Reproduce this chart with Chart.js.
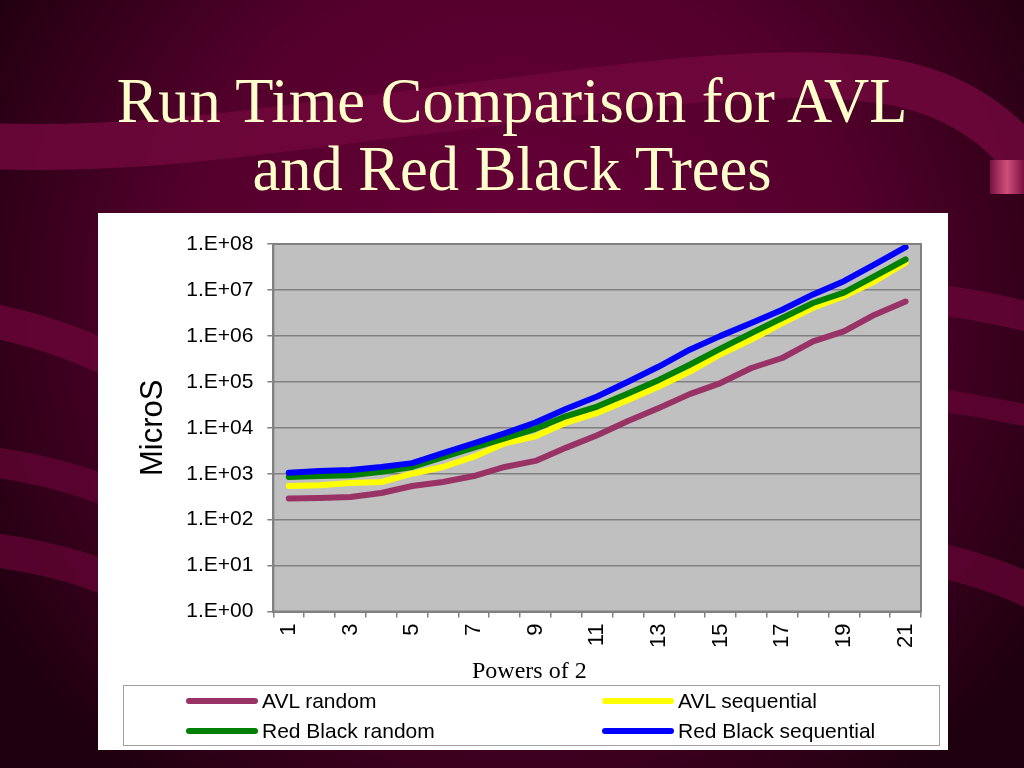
<!DOCTYPE html>
<html lang="en">
<head>
  <meta charset="UTF-8" />
  <title>Run Time Comparison for AVL and Red Black Trees</title>
  <script src="https://cdn.jsdelivr.net/npm/chart.js"></script>
  <style>
    html, body { margin: 0; padding: 0; }
    body { width: 1024px; height: 768px; position: relative; overflow: hidden; background: #3a001d; }
    #bg { position: absolute; left: 0; top: 0; }
    .title { position: absolute; left: 0; width: 1024px; text-align: center; color: #ffffcc;
             font-family: "Liberation Serif", "Times New Roman", serif; font-size: 62.5px; line-height: 68px; white-space: nowrap; }
    #box { position: absolute; left: 98px; top: 213px; width: 850px; height: 537px; background: #fff; }
    #chart { position: absolute; left: 0; top: 0; }
    #xtitle { position: absolute; left: 374px; top: 445px; font-family: "Liberation Serif", serif; font-size: 24px; line-height: 24px; color: #000; }
    #legend { position: absolute; left: 25px; top: 472px; width: 815px; height: 59px; border: 1px solid #a0a0a0;
              font-family: "Liberation Sans", Arial, sans-serif; font-size: 21px; color: #000; }
    .item { position: absolute; height: 30px; line-height: 30px; white-space: nowrap; }
    .item span.swatch { display: inline-block; width: 72px; height: 6px; border-radius: 3px; vertical-align: middle; margin-right: 4px; position: relative; top: -1px; }
  </style>
</head>
<body>
  <svg id="bg" width="1024" height="768">
    <defs>
      <radialGradient id="glow" cx="520" cy="300" r="620" gradientUnits="userSpaceOnUse">
        <stop offset="0" stop-color="#6a003b" />
        <stop offset="0.55" stop-color="#54002c" />
        <stop offset="1" stop-color="#1e000e" />
      </radialGradient>
      <linearGradient id="tab" x1="0" x2="1">
        <stop offset="0" stop-color="#7a1040" />
        <stop offset="0.5" stop-color="#d0507a" />
        <stop offset="1" stop-color="#7a1040" />
      </linearGradient>
    </defs>
    <rect width="1024" height="768" fill="url(#glow)" />
    <path d="M-20,146 C150,152 260,130 420,112 C600,90 760,64 880,80 C960,92 1010,132 1040,182" fill="none" stroke="#70073c" stroke-width="46" stroke-opacity="0.85" />
    <path d="M-20,318 C40,330 80,345 110,360" fill="none" stroke="#6a0538" stroke-width="34" stroke-opacity="0.8" />
    <path d="M-20,460 C40,468 80,480 110,492" fill="none" stroke="#600432" stroke-width="30" stroke-opacity="0.8" />
    <path d="M-20,548 C40,556 80,566 110,580" fill="none" stroke="#600432" stroke-width="34" stroke-opacity="0.8" />
    <path d="M940,300 C980,305 1010,312 1040,320" fill="none" stroke="#660536" stroke-width="30" stroke-opacity="0.8" />
    <path d="M940,400 C980,406 1010,412 1040,418" fill="none" stroke="#600432" stroke-width="22" stroke-opacity="0.8" />
    <path d="M940,560 C980,570 1010,580 1040,596" fill="none" stroke="#600432" stroke-width="34" stroke-opacity="0.8" />
    <rect x="990" y="160" width="34" height="34" fill="url(#tab)" />
  </svg>

  <div class="title" style="top:67px">Run Time Comparison for AVL</div>
  <div class="title" style="top:135px">and Red Black Trees</div>

  <div id="box">
    <canvas id="chart" width="850" height="537"></canvas>
    <div id="xtitle">Powers of 2</div>
    <div id="legend"></div>
  </div>

  <script>
    // x categories: power of 2 (input size)
    const powers = ["1","2","3","4","5","6","7","8","9","10","11","12","13","14","15","16","17","18","19","20","21"];

    // run times in microseconds
    const avlRandom = [290, 295, 310, 380, 540, 660, 890, 1400, 1900, 3700, 6900, 14000, 27000, 54000, 94000, 200000, 330000, 760000, 1250000, 2900000, 5600000];
    const avlSequential = [540, 560, 630, 660, 1000, 1400, 2350, 4600, 6500, 13000, 21000, 40000, 79000, 167000, 400000, 830000, 1900000, 4100000, 7300000, 15500000, 39000000];
    const rbRandom = [850, 890, 930, 1100, 1400, 2300, 3700, 5900, 9500, 18000, 29000, 56000, 110000, 235000, 530000, 1150000, 2450000, 5200000, 8700000, 20000000, 46000000];
    const rbSequential = [1050, 1150, 1200, 1400, 1700, 2800, 4600, 7600, 13000, 26000, 48000, 100000, 215000, 500000, 1000000, 1900000, 3700000, 8000000, 15500000, 36000000, 85000000];

    // y axis ticks
    const yTickValues = [1, 10, 100, 1000, 10000, 100000, 1000000, 10000000, 100000000];
    const yTickLabels = ["1.E+00","1.E+01","1.E+02","1.E+03","1.E+04","1.E+05","1.E+06","1.E+07","1.E+08"];

    const seriesNames = ["AVL random", "AVL sequential", "Red Black random", "Red Black sequential"];
    const seriesColors = ["#993366", "#ffff00", "#008000", "#0000ff"];
    const seriesData = [avlRandom, avlSequential, rbRandom, rbSequential];

    const plotBackground = {
      id: "plotBackground",
      beforeDraw(chart) {
        const { ctx, chartArea: a } = chart;
        ctx.save();
        ctx.fillStyle = "#c0c0c0";
        ctx.fillRect(a.left, a.top, a.right - a.left, a.bottom - a.top);
        ctx.restore();
      },
      afterDatasetsDraw(chart) {
        const { ctx, chartArea: a } = chart;
        ctx.save();
        ctx.strokeStyle = "#808080";
        ctx.lineWidth = 2;
        ctx.strokeRect(a.left, a.top, a.right - a.left, a.bottom - a.top);
        ctx.restore();
      }
    };

    const datasets = seriesNames.map((name, i) => ({
      label: name,
      data: seriesData[i],
      borderColor: seriesColors[i],
      backgroundColor: seriesColors[i],
      borderWidth: 6,
      borderCapStyle: "round",
      borderJoinStyle: "round",
      pointRadius: 0,
      tension: 0,
      order: seriesNames.length - i
    }));

    new Chart(document.getElementById("chart"), {
      type: "line",
      data: { labels: powers, datasets: datasets },
      plugins: [plotBackground],
      options: {
        responsive: false,
        animation: false,
        events: [],
        layout: { padding: { left: 25, top: 31, right: 27, bottom: 96 } },
        plugins: { legend: { display: false }, tooltip: { enabled: false } },
        scales: {
          x: {
            type: "category",
            offset: true,
            border: { display: true, color: "#808080", width: 2 },
            grid: { drawOnChartArea: false, offset: true, tickLength: 6, color: "#808080", lineWidth: 1.5 },
            ticks: {
              autoSkip: false, minRotation: 90, maxRotation: 90, padding: 6, color: "#000",
              font: { family: "Liberation Sans", size: 22 },
              callback: (v, idx) => (idx % 2 === 0 ? powers[idx] : "")
            }
          },
          y: {
            type: "logarithmic",
            min: 1,
            max: 100000000,
            border: { display: true, color: "#808080", width: 2 },
            grid: { color: "#808080", lineWidth: 1.5, tickLength: 6 },
            afterBuildTicks: (scale) => { scale.ticks = yTickValues.map(v => ({ value: v })); },
            ticks: {
              padding: 14, color: "#000",
              font: { family: "Liberation Sans", size: 21 },
              callback: (v) => yTickLabels[yTickValues.indexOf(v)]
            },
            title: {
              display: true, text: "MicroS", color: "#000",
              font: { family: "Liberation Sans", size: 31 },
              padding: { top: 12, bottom: 0 }
            }
          }
        }
      }
    });

    // legend in two columns, as in the reference
    const legend = document.getElementById("legend");
    const legendPos = [[62, 0], [478, 0], [62, 30], [478, 30]];
    seriesNames.forEach((name, i) => {
      const el = document.createElement("div");
      el.className = "item";
      el.style.left = legendPos[i][0] + "px";
      el.style.top = legendPos[i][1] + "px";
      el.innerHTML = '<span class="swatch" style="background:' + seriesColors[i] + '"></span>' + name;
      legend.appendChild(el);
    });
  </script>
</body>
</html>
